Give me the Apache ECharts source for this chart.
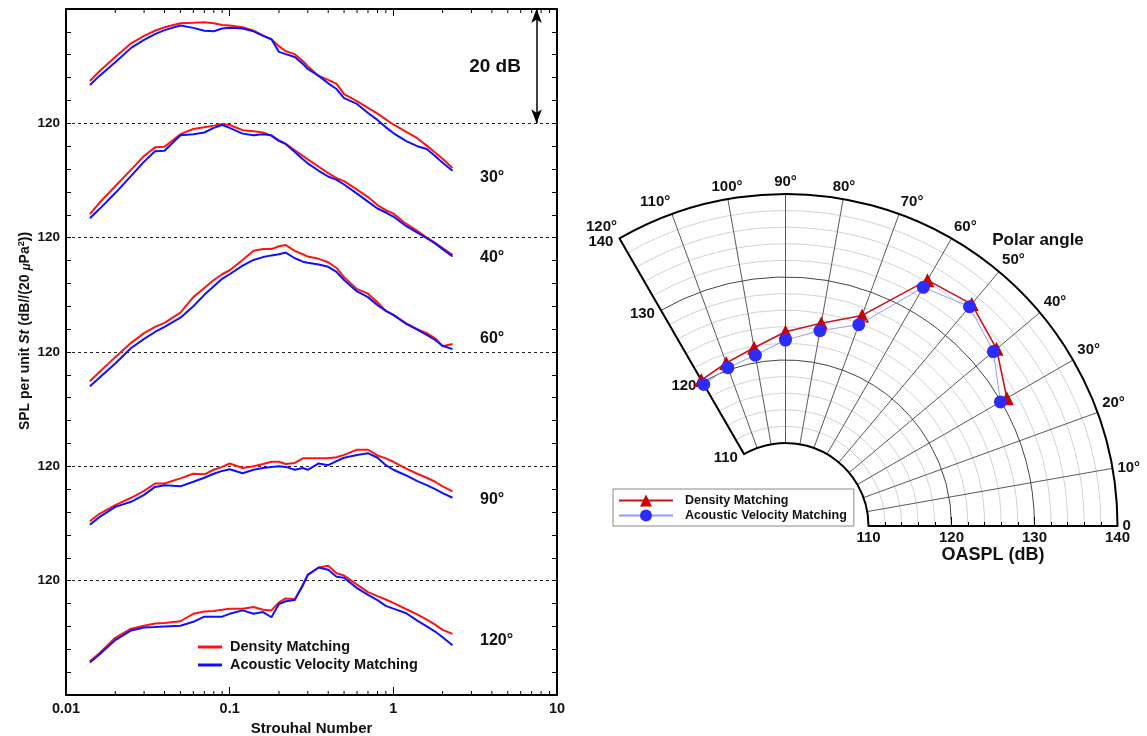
<!DOCTYPE html>
<html>
<head>
<meta charset="utf-8">
<title>Far-field spectra and OASPL directivity</title>
<script src="https://cdn.jsdelivr.net/npm/echarts@6.0.0/dist/echarts.min.js"></script>
<style>
  html, body { margin: 0; padding: 0; background: #fff; }
  #chart { width: 1147px; height: 736px; }
</style>
</head>
<body>
<div id="chart"></div>
<script>
const FONT = '"Liberation Sans", Arial, Helvetica, sans-serif';

// Strouhal numbers at which every spectrum is sampled
const strouhal = [0.014, 0.016, 0.02, 0.025, 0.03, 0.035, 0.04, 0.05, 0.06, 0.07, 0.08, 0.09, 0.1,
  0.12, 0.14, 0.16, 0.18, 0.2, 0.22, 0.25, 0.28, 0.3, 0.35, 0.4, 0.45, 0.5, 0.6, 0.7, 0.8, 0.9,
  1.0, 1.2, 1.4, 1.6, 1.8, 2.0, 2.3];

// SPL per unit St (dB): density matching (dm) and acoustic velocity matching (avm)
const dm30 = [127.4, 129.1, 131.6, 134.0, 135.3, 136.2, 136.8, 137.5, 137.6, 137.7, 137.5, 137.2, 137.1,
  136.8, 136.2, 135.4, 134.7, 133.5, 132.6, 132.1, 130.9, 130.0, 128.3, 127.6, 126.9, 125.1, 123.9, 122.7,
  121.7, 120.7, 119.8, 118.5, 117.4, 116.1, 114.9, 113.8, 112.2];
const avm30 = [126.7, 128.3, 130.7, 133.2, 134.6, 135.6, 136.3, 137.1, 136.7, 136.2, 136.1, 136.6, 136.7,
  136.6, 136.1, 135.3, 134.7, 132.5, 132.1, 131.6, 130.4, 129.5, 128.3, 127.0, 126.0, 124.4, 123.4, 121.8,
  120.6, 119.3, 118.3, 116.9, 116.0, 115.5, 114.3, 113.1, 111.7];

const dm40 = [124.1, 126.1, 129.0, 131.9, 134.3, 135.8, 135.9, 138.1, 139.0, 139.3, 139.6, 139.9, 139.7,
  138.8, 138.6, 138.4, 137.8, 136.9, 136.4, 135.3, 134.3, 133.7, 132.4, 131.3, 130.4, 129.9, 128.4, 127.1,
  125.7, 124.8, 124.2, 122.4, 121.2, 120.0, 119.1, 118.2, 117.0];
const avm40 = [123.4, 125.0, 127.8, 130.8, 133.3, 135.1, 135.2, 137.9, 138.1, 138.4, 139.2, 139.7, 139.2,
  138.2, 137.9, 138.1, 137.9, 137.0, 136.4, 135.0, 133.7, 133.0, 131.7, 130.7, 130.1, 129.3, 127.7, 126.3,
  125.1, 124.4, 123.7, 122.0, 120.9, 119.9, 119.0, 118.0, 116.7];

const dm60 = [114.9, 116.5, 119.1, 121.6, 123.3, 124.4, 125.1, 126.9, 129.6, 131.2, 132.6, 133.6, 134.3,
  136.1, 137.7, 138.0, 138.0, 138.5, 138.7, 137.7, 137.1, 136.7, 136.3, 135.7, 134.7, 133.1, 131.0, 130.2,
  128.7, 127.2, 126.5, 125.0, 124.0, 123.3, 122.4, 121.0, 121.4];
const avm60 = [114.0, 115.5, 118.0, 120.7, 122.3, 123.5, 124.4, 126.0, 128.0, 130.0, 131.5, 132.8, 133.6,
  135.1, 136.1, 136.6, 136.9, 137.1, 137.4, 136.4, 135.8, 135.6, 135.3, 134.9, 134.0, 132.6, 130.6, 129.6,
  128.2, 127.2, 126.5, 124.9, 123.9, 123.0, 122.1, 121.1, 120.5];

const dm90 = [110.4, 111.7, 113.2, 114.5, 115.7, 117.0, 117.0, 117.9, 118.7, 118.6, 119.4, 119.9, 120.5,
  119.7, 120.0, 120.4, 120.8, 120.8, 120.4, 120.6, 121.4, 121.4, 121.4, 121.4, 121.6, 122.0, 122.9, 122.9,
  121.9, 121.4, 120.8, 119.6, 118.7, 118.0, 117.3, 116.5, 115.6];
const avm90 = [109.8, 111.1, 112.9, 113.8, 115.0, 116.4, 116.7, 116.5, 117.3, 118.0, 118.7, 119.2, 119.5,
  118.8, 119.4, 119.7, 119.9, 120.0, 119.9, 119.4, 119.7, 119.4, 120.5, 120.2, 120.9, 121.5, 122.0, 122.3,
  121.5, 120.2, 119.4, 118.4, 117.4, 116.7, 116.0, 115.3, 114.5];

const dm120 = [105.9, 107.3, 110.0, 111.6, 112.1, 112.5, 112.6, 112.9, 114.2, 114.6, 114.7, 114.9, 115.1,
  115.1, 115.4, 114.9, 114.8, 116.2, 116.9, 116.8, 119.1, 121.0, 122.3, 122.6, 121.3, 120.9, 119.3, 118.0,
  117.3, 116.7, 116.1, 115.0, 114.1, 113.2, 112.3, 111.4, 110.7];
const avm120 = [105.7, 107.1, 109.6, 111.3, 111.8, 111.9, 112.0, 112.1, 112.8, 113.7, 113.7, 113.7, 114.2,
  114.8, 114.2, 114.5, 113.6, 115.9, 116.4, 116.6, 119.3, 121.0, 122.3, 121.9, 120.7, 120.5, 118.7, 117.5,
  116.6, 115.6, 115.1, 114.3, 113.0, 112.0, 111.1, 110.1, 108.7];

const angleLabels = ['30°', '40°', '60°', '90°', '120°'];
const dmSpectra = [dm30, dm40, dm60, dm90, dm120];
const avmSpectra = [avm30, avm40, avm60, avm90, avm120];
// Each spectrum is shifted so that its 120 dB level sits on one of these axis values
const shifts = [100, 80, 60, 40, 20];
const refLevel = 120;
const scaleBar = 20;               // length of the dB scale arrow

// Axis ticks
const yRange = [0, 120];
const yStep = 4;
const xRange = [0.01, 10];
const xMinorTicks = [0.02, 0.03, 0.04, 0.05, 0.06, 0.07, 0.08, 0.09,
  0.2, 0.3, 0.4, 0.5, 0.6, 0.7, 0.8, 0.9, 2, 3, 4, 5, 6, 7, 8, 9];

// OASPL directivity (dB) against polar angle (deg)
const polarAngles = [30, 40, 50, 60, 70, 80, 90, 100, 110, 120];
const oasplDM = [130.8, 133.2, 134.9, 134.2, 127.0, 124.8, 123.4, 121.8, 120.9, 120.3];
const oasplAVM = [129.9, 132.7, 134.5, 133.2, 125.8, 123.9, 122.4, 120.9, 120.3, 119.7];
const oasplRange = [110, 140];
const angleRange = [0, 120];
const minorRings = [112, 114, 116, 118, 122, 124, 126, 128, 132, 134, 136, 138];
const majorRings = [120, 130, 110, 140];

const RED = '#ff1414';
const BLUE = '#1010ff';

const shifted = (spl, shift) => strouhal.map((s, i) => [s, +(spl[i] - refLevel + shift).toFixed(2)]);

const series = [];
dmSpectra.forEach((dm, k) => {
  series.push({
    type: 'line', name: 'Density Matching', xAxisIndex: 0, yAxisIndex: 0,
    data: shifted(dm, shifts[k]), showSymbol: false, symbol: 'none',
    lineStyle: { color: RED, width: 2 }, itemStyle: { color: RED }, z: 3
  });
  series.push({
    type: 'line', name: 'Acoustic Velocity Matching', xAxisIndex: 0, yAxisIndex: 0,
    data: shifted(avmSpectra[k], shifts[k]), showSymbol: false, symbol: 'none',
    lineStyle: { color: BLUE, width: 2 }, itemStyle: { color: BLUE }, z: 3
  });
});

// 20 dB scale arrow near the right border
series[0].markLine = {
  silent: true, symbol: ['arrow', 'arrow'], symbolSize: [8, 14],
  lineStyle: { color: '#000', width: 1.5, type: 'solid' }, label: { show: false },
  data: [[{ coord: [7.5, yRange[1]] }, { coord: [7.5, yRange[1] - scaleBar] }]]
};

// Minor decade ticks on the bottom and top borders
series.push({
  type: 'custom', xAxisIndex: 0, yAxisIndex: 0, silent: true, z: 6, clip: false,
  data: xMinorTicks.map(v => [v, yRange[0]]),
  renderItem: (params, api) => {
    const v = api.value(0);
    const b = api.coord([v, yRange[0]]);
    const t = api.coord([v, yRange[1]]);
    return {
      type: 'group', children: [
        { type: 'line', shape: { x1: b[0], y1: b[1], x2: b[0], y2: b[1] - 4 }, style: { stroke: '#000', lineWidth: 1 } },
        { type: 'line', shape: { x1: t[0], y1: t[1], x2: t[0], y2: t[1] + 4 }, style: { stroke: '#000', lineWidth: 1 } }
      ]
    };
  }
});

// Constant-OASPL rings, limited to the 0°–120° sector
function ringRenderer(styleOf) {
  return (params, api) => {
    const v = api.value(0);
    const cs = params.coordSys;
    const p0 = api.coord([v, angleRange[0]]);
    const p1 = api.coord([v, angleRange[1]]);
    const r = Math.hypot(p0[0] - cs.cx, p0[1] - cs.cy);
    const a0 = Math.atan2(p0[1] - cs.cy, p0[0] - cs.cx);
    const a1 = Math.atan2(p1[1] - cs.cy, p1[0] - cs.cx);
    return {
      type: 'arc',
      shape: { cx: cs.cx, cy: cs.cy, r: r, startAngle: a1, endAngle: a0, clockwise: true },
      style: Object.assign({ fill: null }, styleOf(v))
    };
  };
}
series.push({
  type: 'custom', coordinateSystem: 'polar', polarIndex: 0, silent: true, z: 0, clip: false,
  data: minorRings.map(v => [v, 0]),
  renderItem: ringRenderer(() => ({ stroke: '#d2d2d2', lineWidth: 1 }))
});
series.push({
  type: 'custom', coordinateSystem: 'polar', polarIndex: 0, silent: true, z: 2, clip: false,
  data: majorRings.map(v => [v, 0]),
  renderItem: ringRenderer(v => (v === oasplRange[0] || v === oasplRange[1])
    ? { stroke: '#000', lineWidth: 2 } : { stroke: '#454545', lineWidth: 1 })
});

// Directivity curves
series.push({
  type: 'line', name: 'OASPL Density Matching', coordinateSystem: 'polar', polarIndex: 0,
  data: polarAngles.map((a, i) => [oasplDM[i], a]),
  symbol: 'triangle', symbolSize: 14, showSymbol: true,
  lineStyle: { color: '#c8141e', width: 1.6 }, itemStyle: { color: '#cc0000' }, z: 4
});
series.push({
  type: 'line', name: 'OASPL Acoustic Velocity Matching', coordinateSystem: 'polar', polarIndex: 0,
  data: polarAngles.map((a, i) => [oasplAVM[i], a]),
  symbol: 'circle', symbolSize: 13, showSymbol: true,
  lineStyle: { color: '#9a9af2', width: 1 }, itemStyle: { color: '#2c2cff' }, z: 5
});

const bold = (size, extra) => Object.assign({ fontFamily: FONT, fontWeight: 'bold', fontSize: size, color: '#111' }, extra || {});

const spokeColors = [];
for (let a = angleRange[0]; a <= angleRange[1]; a += 10) {
  spokeColors.push(a === angleRange[0] || a === angleRange[1] ? '#000' : '#5a5a5a');
}

const option = {
  animation: false,
  backgroundColor: '#fff',
  grid: { left: 66, top: 9, width: 491, height: 686, containLabel: false, outerBoundsMode: 'none' },
  xAxis: [
    {
      type: 'log', logBase: 10, min: xRange[0], max: xRange[1], position: 'bottom',
      axisLine: { show: true, onZero: false, lineStyle: { color: '#000', width: 2 } },
      axisTick: { show: true, inside: true, length: 8, lineStyle: { color: '#000', width: 1 } },
      axisLabel: Object.assign(bold(14.5), { margin: 6, formatter: v => String(parseFloat(Number(v).toPrecision(3))) }),
      splitLine: { show: false },
      name: 'Strouhal Number', nameLocation: 'middle', nameGap: 24, nameTextStyle: bold(15)
    },
    {
      type: 'log', logBase: 10, min: xRange[0], max: xRange[1], position: 'top',
      axisLine: { show: true, onZero: false, lineStyle: { color: '#000', width: 2 } },
      axisTick: { show: true, inside: true, length: 7, lineStyle: { color: '#000', width: 1 } },
      axisLabel: { show: false }, splitLine: { show: false }
    }
  ],
  yAxis: [
    {
      type: 'value', min: yRange[0], max: yRange[1], interval: yStep, position: 'left',
      axisLine: { show: true, onZero: false, lineStyle: { color: '#000', width: 2 } },
      axisTick: { show: true, inside: true, length: 5, lineStyle: { color: '#000', width: 1 } },
      axisLabel: Object.assign(bold(13.5), { margin: 6, formatter: v => shifts.includes(v) ? String(refLevel) : '' }),
      splitLine: {
        show: true,
        lineStyle: { color: ['#222', 'rgba(0,0,0,0)', 'rgba(0,0,0,0)', 'rgba(0,0,0,0)', 'rgba(0,0,0,0)'], width: 1, type: [3, 3] }
      }
    },
    {
      type: 'value', min: yRange[0], max: yRange[1], interval: yStep, position: 'right',
      axisLine: { show: true, onZero: false, lineStyle: { color: '#000', width: 2 } },
      axisTick: { show: true, inside: true, length: 5, lineStyle: { color: '#000', width: 1 } },
      axisLabel: { show: false }, splitLine: { show: false }
    }
  ],
  polar: [
    { center: [785.5, 526], radius: [83, 332] },
    { center: [785.5, 526], radius: [83, 332] }
  ],
  angleAxis: [
    {
      polarIndex: 0, type: 'value', min: angleRange[0], max: angleRange[1], interval: 10,
      startAngle: 0, endAngle: 120, clockwise: false, z: 1,
      axisLine: { show: false },
      axisTick: { show: false },
      axisLabel: Object.assign(bold(15), { margin: 5, formatter: v => (v === 0 ? '0' : v + '°') }),
      splitLine: { show: true, lineStyle: { color: spokeColors, width: 1 } }
    },
    {
      polarIndex: 1, type: 'value', min: angleRange[0], max: angleRange[1], interval: 10,
      startAngle: 120, endAngle: 0, clockwise: true,
      axisLine: { show: false }, axisTick: { show: false }, axisLabel: { show: false }, splitLine: { show: false }
    }
  ],
  radiusAxis: [
    {
      polarIndex: 0, type: 'value', min: oasplRange[0], max: oasplRange[1], interval: 10, z: 3,
      axisLine: { show: true, lineStyle: { color: '#000', width: 2 } },
      axisTick: { show: true, length: 9, lineStyle: { color: '#000', width: 1 } },
      minorTick: { show: true, splitNumber: 5, length: 4, lineStyle: { color: '#000', width: 1 } },
      axisLabel: Object.assign(bold(15), { margin: -19 }),
      splitLine: { show: false },
      minorSplitLine: { show: false },
      name: 'OASPL (dB)', nameLocation: 'middle', nameGap: 15, nameTextStyle: bold(18)
    },
    {
      polarIndex: 1, type: 'value', min: oasplRange[0], max: oasplRange[1], interval: 10, z: 3,
      axisLine: { show: true, lineStyle: { color: '#000', width: 2 } },
      axisTick: { show: false },
      axisLabel: Object.assign(bold(15), { margin: 7 }),
      splitLine: { show: false }
    }
  ],
  legend: [
    {
      left: 198, top: 638, orient: 'vertical', padding: 0, itemGap: 0,
      itemWidth: 24, itemHeight: 3, selectedMode: false,
      data: [{ name: 'Density Matching', icon: 'rect' }, { name: 'Acoustic Velocity Matching', icon: 'rect' }],
      textStyle: bold(14.5, { lineHeight: 18, padding: [0, 0, 0, 3] })
    },
    {
      left: 613, top: 489, orient: 'vertical', padding: [4, 7, 3, 5], itemGap: 0,
      itemWidth: 54, itemHeight: 15, selectedMode: false,
      backgroundColor: '#fff', borderColor: '#888', borderWidth: 1,
      data: ['OASPL Density Matching', 'OASPL Acoustic Velocity Matching'],
      formatter: n => n.replace('OASPL ', ''),
      textStyle: bold(12.5, { lineHeight: 15, padding: [0, 0, 0, 7] })
    }
  ],
  series: series,
  graphic: [
    {
      type: 'text', x: 25, y: 331, rotation: Math.PI / 2,
      style: {
        text: 'SPL per unit {i|St} (dB//(20 {m|μ}Pa{s|2}))',
        font: 'bold 14px ' + FONT, fill: '#111', align: 'center', verticalAlign: 'middle',
        rich: {
          i: { fontStyle: 'italic', fontWeight: 'bold', fontSize: 14, fontFamily: FONT },
          m: { fontStyle: 'italic', fontWeight: 'bold', fontSize: 12, fontFamily: FONT, padding: [4, 0, 0, 0] },
          s: { fontWeight: 'bold', fontSize: 9, fontFamily: FONT, padding: [0, 0, 7, 0] }
        }
      }
    },
    { type: 'text', x: 495, y: 67, style: { text: scaleBar + ' dB', font: 'bold 19px ' + FONT, fill: '#111', align: 'center', verticalAlign: 'middle' } },
    { type: 'text', x: 480, y: 178, style: { text: angleLabels[0], font: 'bold 16px ' + FONT, fill: '#111', align: 'left', verticalAlign: 'middle' } },
    { type: 'text', x: 480, y: 258, style: { text: angleLabels[1], font: 'bold 16px ' + FONT, fill: '#111', align: 'left', verticalAlign: 'middle' } },
    { type: 'text', x: 480, y: 339, style: { text: angleLabels[2], font: 'bold 16px ' + FONT, fill: '#111', align: 'left', verticalAlign: 'middle' } },
    { type: 'text', x: 480, y: 500, style: { text: angleLabels[3], font: 'bold 16px ' + FONT, fill: '#111', align: 'left', verticalAlign: 'middle' } },
    { type: 'text', x: 480, y: 641, style: { text: angleLabels[4], font: 'bold 16px ' + FONT, fill: '#111', align: 'left', verticalAlign: 'middle' } },
    { type: 'text', x: 1038, y: 240, style: { text: 'Polar angle', font: 'bold 17px ' + FONT, fill: '#111', align: 'center', verticalAlign: 'middle' } }
  ]
};

const chart = echarts.init(document.getElementById('chart'), null, { renderer: 'canvas' });
chart.setOption(option);
</script>
</body>
</html>
